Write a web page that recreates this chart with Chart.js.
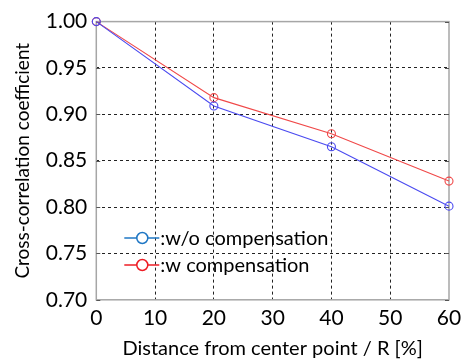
<!DOCTYPE html>
<html lang="en">
<head>
<meta charset="UTF-8">
<title>Cross-correlation coefficient</title>
<script src="https://cdn.jsdelivr.net/npm/chart.js"></script>
<style>
  html, body { margin: 0; padding: 0; background: #fff; }
  #wrap { width: 464px; height: 362px; }
</style>
</head>
<body>
<div id="wrap"><canvas id="c" width="464" height="362"></canvas></div>
<script>
const distances = [0, 20, 40, 60];
const withoutComp = [1.00, 0.909, 0.865, 0.801];
const withComp = [1.00, 0.918, 0.879, 0.828];
const xTicks = [0, 10, 20, 30, 40, 50, 60];
const yTicks = [0.70, 0.75, 0.80, 0.85, 0.90, 0.95, 1.00];

const FONT = 'Lato, "Open Sans", sans-serif';

// frame, inner tick marks and the legend inside the plot
const framePlugin = {
  id: 'frame',
  beforeDatasetsDraw(chart) {
    const {ctx, chartArea: a, scales} = chart;
    ctx.save();
    ctx.strokeStyle = '#a6a6a6';
    ctx.lineWidth = 1.5;
    ctx.strokeRect(a.left, a.top, a.right - a.left, a.bottom - a.top);
    ctx.strokeStyle = '#555';
    ctx.lineWidth = 1;
    yTicks.forEach(v => {
      const y = Math.round(scales.y.getPixelForValue(v)) + 0.5;
      ctx.beginPath();
      ctx.moveTo(a.left, y); ctx.lineTo(a.left + 4, y);
      ctx.moveTo(a.right, y); ctx.lineTo(a.right - 4, y);
      ctx.stroke();
    });
    ctx.restore();
  },
  afterDraw(chart) {
    const {ctx, chartArea: a} = chart;
    const items = [
      {label: ':w/o compensation', color: '#1f77c4'},
      {label: ':w compensation', color: '#ee1c24'}
    ];
    ctx.save();
    ctx.font = '20px ' + FONT;
    ctx.textBaseline = 'middle';
    items.forEach((it, i) => {
      const y = 238 + i * 27;
      const x0 = a.left + 28;
      ctx.strokeStyle = it.color;
      ctx.lineWidth = 1.5;
      ctx.beginPath();
      ctx.moveTo(x0, y); ctx.lineTo(x0 + 35, y);
      ctx.stroke();
      ctx.beginPath();
      ctx.arc(x0 + 18, y, 5.5, 0, Math.PI * 2);
      ctx.fillStyle = '#fff';
      ctx.fill();
      ctx.stroke();
      ctx.fillStyle = '#000';
      ctx.fillText(it.label, x0 + 36, y + 1);
    });
    ctx.restore();
  }
};

const gridColor = (ctx, last) =>
  (ctx.index === 0 || ctx.index === last) ? 'rgba(0,0,0,0)' : '#222';

new Chart(document.getElementById('c'), {
  type: 'line',
  data: {
    datasets: [
      {
        label: ':w/o compensation',
        data: distances.map((d, i) => ({x: d, y: withoutComp[i]})),
        borderColor: '#4a4af0',
        backgroundColor: 'rgba(0,0,0,0)',
        borderWidth: 1.1,
        pointRadius: 4,
        pointBorderWidth: 1.1,
        pointBorderColor: '#4a4af0',
        pointBackgroundColor: 'rgba(0,0,0,0)'
      },
      {
        label: ':w compensation',
        data: distances.map((d, i) => ({x: d, y: withComp[i]})),
        borderColor: '#f04848',
        backgroundColor: 'rgba(0,0,0,0)',
        borderWidth: 1.1,
        pointRadius: 4,
        pointBorderWidth: 1.1,
        pointBorderColor: '#f04848',
        pointBackgroundColor: 'rgba(0,0,0,0)'
      }
    ]
  },
  options: {
    responsive: false,
    animation: false,
    clip: false,
    layout: { padding: { top: 21, right: 15, left: 11, bottom: 1 } },
    plugins: { legend: { display: false }, tooltip: { enabled: false } },
    scales: {
      x: {
        type: 'linear',
        min: 0, max: 60,
        afterBuildTicks: s => { s.ticks = xTicks.map(v => ({value: v})); },
        afterFit: s => { s.paddingRight = 0; },
        grid: { color: c => gridColor(c, xTicks.length - 1), lineWidth: 1, drawTicks: false },
        border: { display: false, dash: [3, 3] },
        ticks: { color: '#000', font: { family: FONT, size: 21 }, padding: 6, maxRotation: 0 },
        title: { display: true, text: 'Distance from center point / R [%]', color: '#000',
                 font: { family: FONT, size: 20 }, padding: { top: 0, bottom: 0 } }
      },
      y: {
        min: 0.70, max: 1.00,
        afterBuildTicks: s => { s.ticks = yTicks.map(v => ({value: v})); },
        grid: { color: c => gridColor(c, yTicks.length - 1), lineWidth: 1, drawTicks: false },
        border: { display: false, dash: [3, 3] },
        ticks: { color: '#000', font: { family: FONT, size: 21 }, padding: 9,
                 callback: v => Number(v).toFixed(2) },
        title: { display: true, text: 'Cross-correlation coefficient', color: '#000',
                 font: { family: FONT, size: 19 }, padding: { top: 0, bottom: 3 } }
      }
    }
  },
  plugins: [framePlugin]
});
</script>
</body>
</html>
